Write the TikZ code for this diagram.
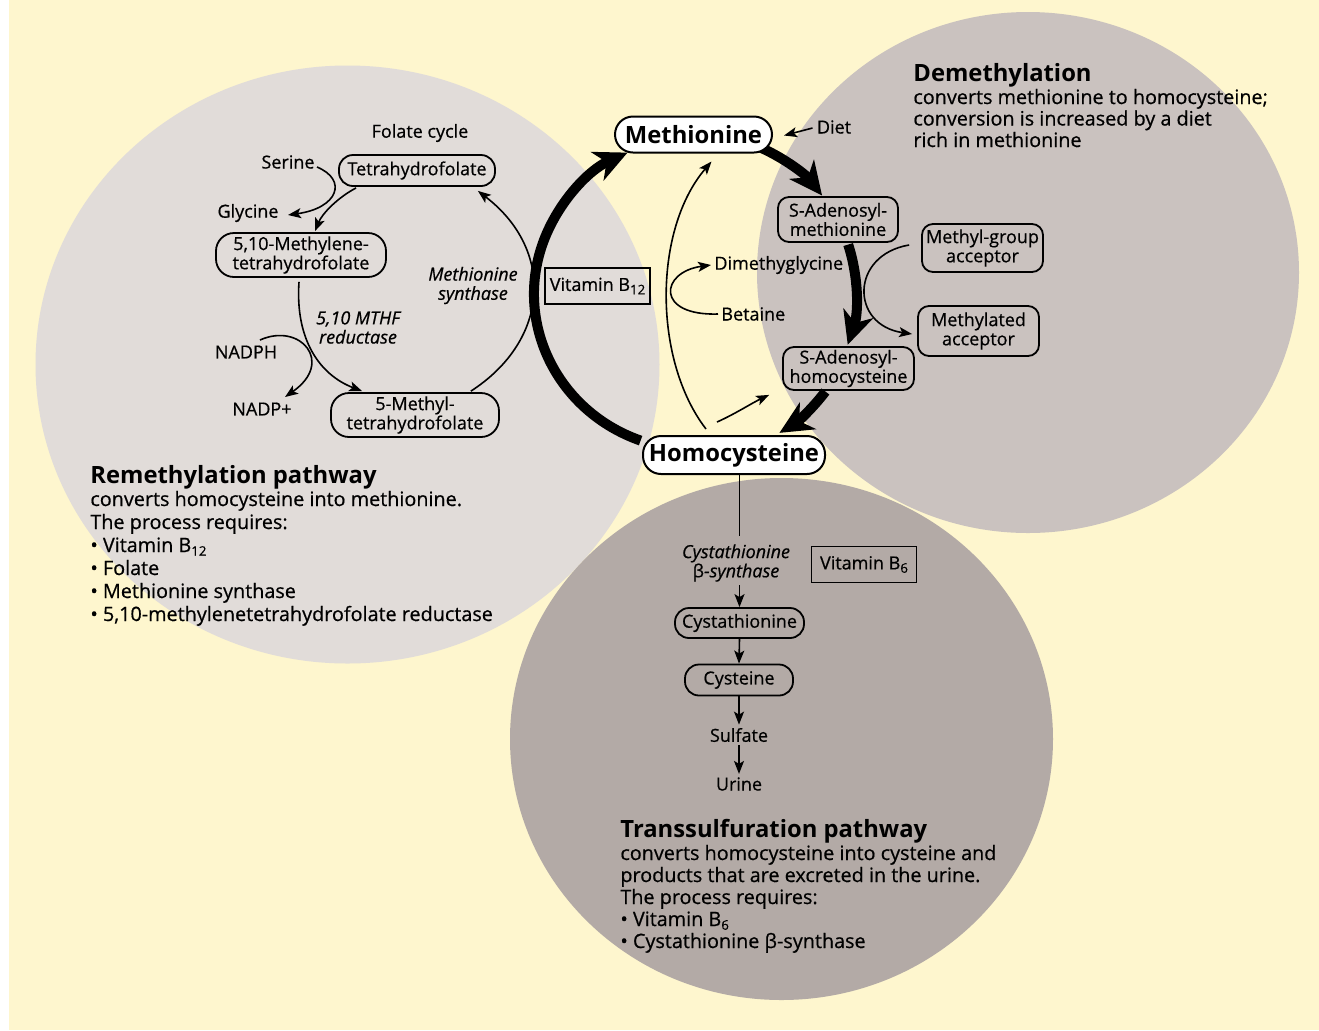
\documentclass[tikz,border=0pt]{standalone}
\usepackage{fontspec}
\setmainfont{Open Sans}[UprightFeatures={FakeBold=0.6}, ItalicFeatures={FakeBold=0.6}]
\usetikzlibrary{arrows.meta,calc}
\definecolor{bgcream}{HTML}{FEF6CE}
\definecolor{circleL}{HTML}{E1DCD9}
\definecolor{circleR}{HTML}{CAC2BF}
\definecolor{circleB}{HTML}{B3AAA6}
\newcommand\fnode{\fontsize{9.0}{9.6}\selectfont}
\newcommand\fdesc{\fontsize{9.9}{11}\selectfont}
\newcommand\fbig{\bfseries\fontsize{11.9}{12}\selectfont}
\newcommand\lowsub[1]{\raisebox{-0.35ex}{\fontsize{6.6}{7}\selectfont #1}}
\begin{document}
\begin{tikzpicture}[x=0.5pt,y=-0.5pt,
  pill/.style={draw, line width=0.9pt, rounded corners=7pt, inner sep=0pt, align=center, font=\fnode},
  rbox/.style={draw, line width=0.9pt, rounded corners=5.5pt, inner sep=0pt, align=center, font=\fnode},
  vitbox/.style={draw, line width=0.8pt, inner sep=0pt, font=\fnode},
  mainbox/.style={draw, fill=white, line width=1pt, rounded corners=9pt, inner sep=0pt, font=\fbig},
  lbl/.style={inner sep=1.5pt, font=\fnode, align=center},
  ilbl/.style={inner sep=1.5pt, font=\fnode\itshape, align=center},
  thinarrow/.style={line width=0.8pt, -{Stealth[length=6.5pt,width=5pt,inset=1.5pt]}},
  heavyarrow/.style={line width=5pt, -{Stealth[length=16.5pt,width=15.5pt,inset=5pt]}},
  descline/.style={anchor=base west, inner sep=0pt, font=\fdesc},
  ttlline/.style={anchor=base west, inner sep=0pt, font=\fbig}
]
\useasboundingbox (0,0) rectangle (1319,1030);
\fill[white] (0,0) rectangle (1319,1030);
\fill[bgcream] (9,0) rectangle (1319,1030);

% circles
\fill[circleL] (347.5,364.5) ellipse[x radius=312, y radius=299];
\fill[circleR] (1028,272.5) ellipse[x radius=271, y radius=260.5];
\fill[circleB] (781.5,739) ellipse[x radius=271.5, y radius=261];

% nodes
\node[rbox, minimum width=60pt, minimum height=22.5pt] (SAM) at (838,219.5) {S-Adenosyl-\\methionine};
\node[rbox, minimum width=65.5pt, minimum height=21.5pt] (SAH) at (848.5,368.5) {S-Adenosyl-\\homocysteine};
\node[rbox, minimum width=60.5pt, minimum height=24pt] (MGA) at (982.5,248) {Methyl-group\\acceptor};
\node[rbox, minimum width=60.5pt, minimum height=25pt] (MA) at (978.5,331) {Methylated\\acceptor};
\node[vitbox, minimum width=52.5pt, minimum height=18pt] (VB12) at (597.5,286) {Vitamin B\lowsub{12}};
\node[pill, minimum width=78pt, minimum height=15.5pt] (THF) at (417,170.5) {Tetrahydrofolate};
\node[pill, rounded corners=9pt, minimum width=85pt, minimum height=22pt] (MTHF) at (301,255) {5,10-Methylene-\\tetrahydrofolate};
\node[pill, rounded corners=9pt, minimum width=84pt, minimum height=22pt] (MeTHF) at (415,415) {5-Methyl-\\tetrahydrofolate};
\node[vitbox, minimum width=52.5pt, minimum height=18pt] (VB6) at (864,564.5) {Vitamin B\lowsub{6}};
\node[pill, minimum width=64.5pt, minimum height=15pt] (Cysta) at (739.5,623) {Cystathionine};
\node[pill, minimum width=54pt, minimum height=15.5pt] (Cys) at (739,680) {Cysteine};

% labels
\node[lbl] (Fol) at (420,133) {Folate cycle};
\node[lbl] (Ser) at (288,162) {Serine};
\node[lbl] (Gly) at (248,213) {Glycine};
\node[lbl] (NADPH) at (246,352) {NADPH};
\node[lbl] (NADP) at (262,409) {NADP+};
\node[ilbl] (MS) at (473,285.5) {Methionine\\synthase};
\node[ilbl] (MR) at (358,327.5) {5,10 MTHF\\reductase};
\node[lbl] (Diet) at (834,127) {Diet};
\node[lbl, anchor=west] (DMG) at (711,265) {Dimethyglycine};
\node[lbl, anchor=west] (Bet) at (718,314) {Betaine};
\node[ilbl] (CBS) at (736,563) {Cystathionine\\{\upshape β}-synthase};
\node[lbl] (Sulf) at (739,735) {Sulfate};
\node[lbl] (Urine) at (739,784) {Urine};

% heavy cycle arrows
\coordinate (cyc) at (696,294);
\draw[heavyarrow] ($(cyc)+(110:162 and 156)$) arc[start angle=110, end angle=245, x radius=162, y radius=156];
\draw[heavyarrow] ($(cyc)+(-66:160)$) arc[start angle=-66, end angle=-38, radius=160];
\draw[heavyarrow] ($(cyc)+(-18:160)$) arc[start angle=-18, end angle=18.5, radius=160];
\draw[heavyarrow] ($(cyc)+(37:162)$) arc[start angle=37, end angle=59, radius=162];
% main boxes on top of the arrow starts
\node[mainbox, minimum width=78.5pt, minimum height=18pt] (Met) at (693.5,134.5) {Methionine};
\node[mainbox, minimum width=91pt, minimum height=19pt] (Hcy) at (734,455) {Homocysteine};

% thin arrows
\draw[thinarrow] ($(Hcy.north)+(-28,-6)$) .. controls (653,360) and (653,230) .. ($(Met.south)+(18,8)$);
\draw[thinarrow] ($(Hcy.north)+(-17,-13)$) .. controls (735,414) and (752,403) .. ($(SAH.south west)+(-13,4)$);
\draw[thinarrow] (Bet.west) .. controls (655,316) and (660,272) .. (DMG.west);
\draw[thinarrow] ($(MGA.west)+(-12,-3)$) .. controls (850,255) and (850,325) .. ($(MA.west)+(-5,3)$);
\draw[thinarrow] ($(Diet.west)+(-1,1)$) -- ($(Met.east)+(11,1)$);
\draw[thinarrow] ($(THF.south west)+(18,1)$) .. controls (337,198) and (322,214) .. ($(MTHF.north)+(14,-1)$);
\draw[thinarrow] ($(Ser)+(29,5)$) .. controls (348,180) and (338,208) .. ($(Gly)+(40,2)$);
\draw[thinarrow] ($(MTHF.south)+(-2,4)$) .. controls (295,340) and (320,375) .. ($(MeTHF.north west)+(32,-1)$);
\draw[thinarrow] ($(NADPH)+(14,-12)$) .. controls (300,322) and (335,362) .. ($(NADP)+(23,-12)$);
\draw[thinarrow] ($(MeTHF.north east)+(-29,-1)$) .. controls (550,340) and (555,250) .. ($(THF.south east)+(-18,4)$);

% transsulfuration chain
\draw[line width=0.8pt] (Hcy.south -| Cysta.north) -- ($(CBS.north -| Cysta.north)+(0,-5)$);
\draw[thinarrow] (CBS.south -| Cysta.north) -- (Cysta.north);
\draw[thinarrow] (Cysta.south) -- (Cys.north);
\draw[thinarrow] (Cys.south -| Sulf.north) -- (Sulf.north);
\draw[thinarrow] (Sulf.south) -- (Urine.north);

% description blocks
\node[ttlline] (Rt) at (90,483) {Remethylation pathway};
\node[descline] (R1) at (90,506) {converts homocysteine into methionine.};
\node[descline] (R2) at (90,529) {The process requires:};
\node[descline] (R3) at (90,552) {• Vitamin B\lowsub{12}};
\node[descline] (R4) at (90,575) {• Folate};
\node[descline] (R5) at (90,598) {• Methionine synthase};
\node[descline] (R6) at (90,621) {• 5,10-methylenetetrahydrofolate reductase};

\node[ttlline] (Dt) at (913,81) {Demethylation};
\node[descline] (D1) at (913,104) {converts methionine to homocysteine;};
\node[descline] (D2) at (913,125.5) {conversion is increased by a diet};
\node[descline] (D3) at (913,147) {rich in methionine};

\node[ttlline] (Tt) at (620,837) {Transsulfuration pathway};
\node[descline] (T1) at (620,860) {converts homocysteine into cysteine and};
\node[descline] (T2) at (620,882) {products that are excreted in the urine.};
\node[descline] (T3) at (620,904) {The process requires:};
\node[descline] (T4) at (620,926) {• Vitamin B\lowsub{6}};
\node[descline] (T5) at (620,948) {• Cystathionine {β}-synthase};
\end{tikzpicture}
\end{document}
